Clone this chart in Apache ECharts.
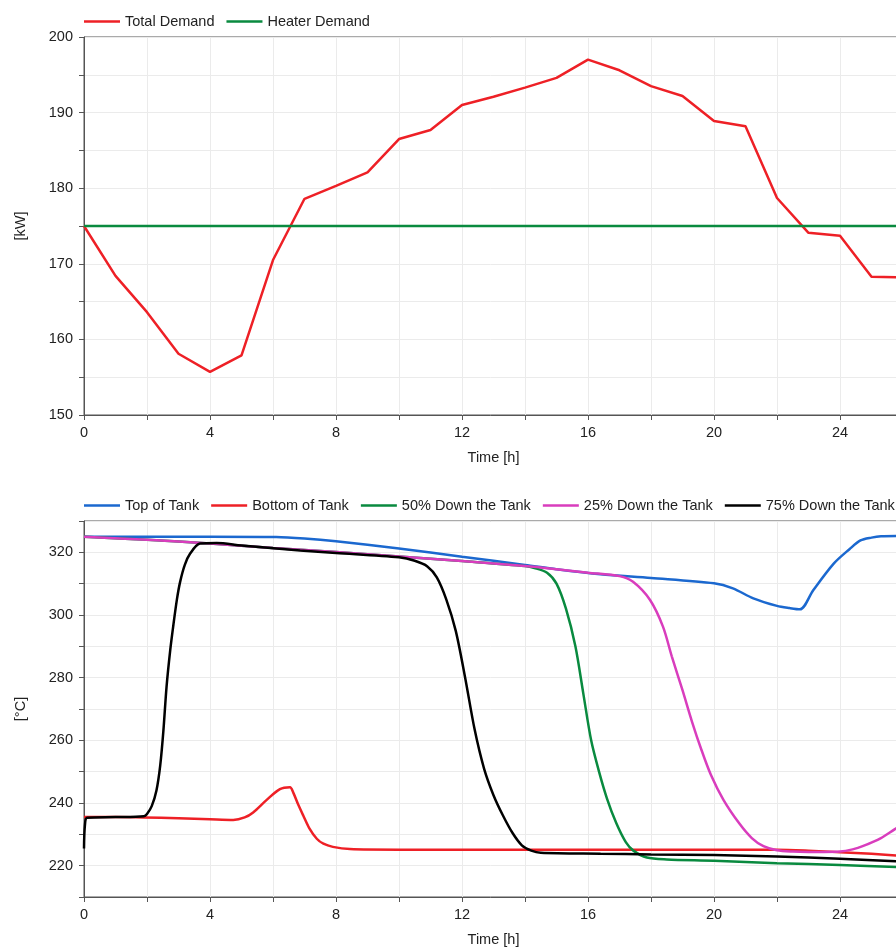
<!DOCTYPE html>
<html><head><meta charset="utf-8">
<script src="https://cdn.jsdelivr.net/npm/echarts@6/dist/echarts.min.js"></script>
<style>html,body{margin:0;padding:0;background:#fff;overflow:hidden}#c{width:896px;height:951px}</style>
</head><body><div id="c"></div>
<script>
// ---- Top chart: demand [kW] ----
const demandHours = [0,1,2,3,4,5,6,7,8,9,10,11,12,13,14,15,16,17,18,19,20,21,22,23,24,25,26];
const totalDemand = [175,168.4,163.6,158.1,155.7,157.9,170.5,178.6,180.3,182.1,186.5,187.7,191.0,192.1,193.3,194.6,197.0,195.6,193.5,192.2,188.9,188.2,178.7,174.1,173.7,168.3,168.2];
const heaterHours = [0,26];
const heaterDemand = [175,175];

// ---- Bottom chart: tank temperatures [°C] ----
const topTankT = [0,2,4,6.1,7,8,10,12,14,15,16.4,18,20,20.6,21.25,22,22.4,22.73,23.15,23.8,24.3,24.65,25.0,25.3,26];
const topTankV = [325,325,325,324.9,324.4,323.5,321.2,318.6,316,314.6,313,311.8,310.1,308.5,305.3,302.9,302.2,301.8,307.9,316.4,321,323.8,324.7,325.1,325.2];

const bottomTankT = [0,1,1.88,3,4,4.74,5.1,5.37,5.8,6.22,6.54,6.64,6.8,6.96,7.15,7.39,7.6,7.9,8.44,10,22,23,24,25,26];
const bottomTankV = [235.5,235.5,235.4,235.1,234.8,234.6,235.4,237.0,241,244.4,245,243.4,239.5,236,232,228.6,227,226,225.3,225.1,225.1,224.8,224.3,223.8,223.1];

const mid50T = [0,2,4,6,8,10,12,14,14.3,14.7,15.0,15.3,15.6,15.85,16.1,16.35,16.6,16.9,17.2,17.44,17.87,18.5,20,22,24,26];
const mid50V = [325,324,322.8,321.4,320.1,318.7,317.2,315.6,315,313.5,310,302,290,275,260,250,241.5,233.5,227.5,224.8,222.6,222,221.6,220.8,220.2,219.5];

const upper25T = [0,2,4,6,8,10,12,14,15,16,17,17.43,17.97,18.38,18.66,19.0,19.3,19.6,19.9,20.3,20.8,21.2,21.57,22,22.5,23,23.5,24,24.4,24.74,25.3,25.8,26];
const upper25V = [325,324,322.8,321.4,320.1,318.7,317.2,315.6,314.6,313.5,312.4,310.6,304.8,296.3,286.8,276,266,257,249,241,233.5,228.8,226.2,224.9,224.5,224.4,224.4,224.5,225.2,226.3,228.8,232,232.8];

const lower75T = [0,0.03,0.1,1,1.9,2.0,2.15,2.3,2.42,2.52,2.62,2.74,2.84,2.95,3.05,3.2,3.37,3.68,4.21,5,6.86,8,10,10.5,10.9,11.2,11.5,11.8,12.1,12.4,12.7,13.0,13.3,13.6,13.9,14.2,14.5,16.4,18,20,22,24,26];
const lower75V = [225.5,233,235.3,235.5,235.8,236.5,239,244,252,263,277,289,297,305,310.5,316,319.6,322.8,323.0,322.2,320.6,319.8,318.4,317.3,315.5,312,305,295,280,263.5,251,242.5,236,230.5,226.5,224.8,224.1,223.8,223.6,223.4,222.9,222.2,221.3];

const xTicksEvery = 4;

function pairs(t, v) { return t.map((x, i) => [x, v[i]]); }

const FONT = "'Liberation Sans', Arial, sans-serif";
const FS = 14.5;
const TXT = '#222';
const AXC = '#555';
const GRIDC = '#ebebeb';

function xAxisCfg(gridIndex) {
  return {
    type: 'value', gridIndex, min: 0, max: 26, interval: 2,
    name: 'Time [h]', nameLocation: 'middle', nameGap: 35,
    nameTextStyle: { color: TXT, fontFamily: FONT, fontSize: FS },
    axisLine: { show: true, lineStyle: { color: AXC, width: 1 } },
    axisTick: { show: true, length: 5, lineStyle: { color: AXC } },
    axisLabel: { color: TXT, fontFamily: FONT, fontSize: FS, margin: 10, hideOverlap: false,
      formatter: v => (Math.abs(v % xTicksEvery) < 1e-6 ? String(v) : '') },
    splitLine: { show: true, lineStyle: { color: GRIDC, width: 1 } }
  };
}
function yAxisCfg(gridIndex, name, min, max, interval, labelEvery) {
  return {
    type: 'value', gridIndex, min, max, interval,
    name, nameLocation: 'middle', nameGap: 56, nameRotate: 90,
    nameTextStyle: { color: TXT, fontFamily: FONT, fontSize: FS },
    axisLine: { show: true, lineStyle: { color: AXC, width: 1 } },
    axisTick: { show: true, length: 5, lineStyle: { color: AXC } },
    axisLabel: { color: TXT, fontFamily: FONT, fontSize: FS, margin: 11,
      formatter: v => (Math.abs(v % labelEvery) < 1e-6 ? String(v) : '') },
    splitLine: { show: true, lineStyle: { color: GRIDC, width: 1 } }
  };
}
function line(name, data, color, xi, smooth) {
  return { type: 'line', name, data, xAxisIndex: xi, yAxisIndex: xi,
    symbol: 'none', smooth: smooth ? 0.3 : false,
    lineStyle: { color, width: 2.5 }, itemStyle: { color },
    animation: false };
}

const RED = '#ee2026', GREEN = '#098a3f', BLUE = '#1b68cf', MAG = '#d93dbd', BLK = '#000000';

const legendBase = { icon: 'rect', itemWidth: 36, itemHeight: 2.5, itemGap: 12, width: 1200,
  orient: 'horizontal', textStyle: { color: TXT, fontFamily: FONT, fontSize: FS } };

const chart = echarts.init(document.getElementById('c'), null, { renderer: 'canvas' });
chart.setOption({
  backgroundColor: '#fff',
  animation: false,
  textStyle: { fontFamily: FONT },
  legend: [
    Object.assign({ left: 79, top: 9, data: ['Total Demand', 'Heater Demand'] }, legendBase),
    Object.assign({ left: 79, top: 493,
      data: ['Top of Tank', 'Bottom of Tank', '50% Down the Tank', '25% Down the Tank', '75% Down the Tank'] }, legendBase)
  ],
  grid: [
    { left: 84, top: 37, width: 819, height: 378, show: true, borderColor: AXC, borderWidth: 1,
      backgroundColor: 'transparent', containLabel: false, outerBoundsMode: 'none' },
    { left: 84, top: 521, width: 819, height: 376, show: true, borderColor: AXC, borderWidth: 1,
      backgroundColor: 'transparent', containLabel: false, outerBoundsMode: 'none' }
  ],
  xAxis: [xAxisCfg(0), xAxisCfg(1)],
  yAxis: [yAxisCfg(0, '[kW]', 150, 200, 5, 10), yAxisCfg(1, '[°C]', 210, 330, 10, 20)],
  series: [
    line('Total Demand', pairs(demandHours, totalDemand), RED, 0, false),
    line('Heater Demand', pairs(heaterHours, heaterDemand), GREEN, 0, false),
    line('Top of Tank', pairs(topTankT, topTankV), BLUE, 1, true),
    line('Bottom of Tank', pairs(bottomTankT, bottomTankV), RED, 1, true),
    line('50% Down the Tank', pairs(mid50T, mid50V), GREEN, 1, true),
    line('25% Down the Tank', pairs(upper25T, upper25V), MAG, 1, true),
    line('75% Down the Tank', pairs(lower75T, lower75V), BLK, 1, true)
  ]
});
</script>
</body></html>
